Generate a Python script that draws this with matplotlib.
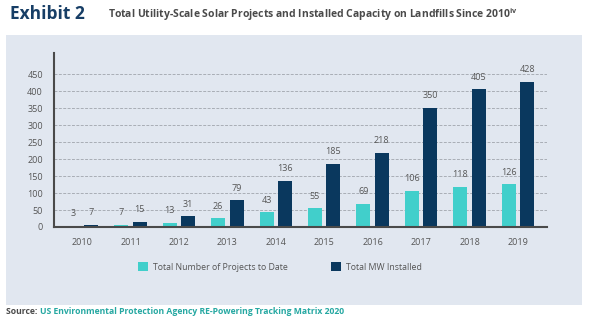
import matplotlib
matplotlib.use("Agg")
import matplotlib.pyplot as plt
from matplotlib.patches import Rectangle, Patch
import numpy as np

years = ["2010", "2011", "2012", "2013", "2014", "2015", "2016", "2017", "2018", "2019"]
projects = [3, 7, 13, 26, 43, 55, 69, 106, 118, 126]
mw_installed = [7, 15, 31, 79, 136, 185, 218, 350, 405, 428]
yticks = [0, 50, 100, 150, 200, 250, 300, 350, 400, 450]

TEAL = "#41CFCB"
NAVY = "#0A385E"
PANEL = "#E1E7F0"
GRAY = "#555555"

plt.rcParams["font.family"] = ["Open Sans", "DejaVu Sans"]

fig = plt.figure(figsize=(6.0, 3.24), dpi=100)
fig.patch.set_facecolor("white")

# panel background
fig.patches.append(Rectangle((6 / 600, 1 - 305 / 324), (582 - 6) / 600, (305 - 35) / 324,
                             transform=fig.transFigure, facecolor=PANEL, edgecolor="none", zorder=-5))

ax = fig.add_axes([54 / 600, 1 - 227 / 324, (547 - 54) / 600, (227 - 53) / 324])
ax.set_facecolor("none")
ax.set_zorder(2)

x = np.arange(len(years))
w = 0.29
off = 0.19
b1 = ax.bar(x - off, projects, width=w, color=TEAL, zorder=3, label="Total Number of Projects to Date")
b2 = ax.bar(x + off, mw_installed, width=w, color=NAVY, zorder=3, label="Total MW Installed")

for bars, vals in ((b1, projects), (b2, mw_installed)):
    for r, v in zip(bars, vals):
        ax.annotate(str(v), (r.get_x() + r.get_width() / 2, r.get_height()),
                    xytext=(0, 5.5), textcoords="offset points", ha="center", va="bottom",
                    fontsize=6.5, color=GRAY)

ax.set_xlim(-0.58, 9.6)
ax.set_ylim(0, 512)
ax.set_yticks(yticks)
ax.set_yticklabels([str(t) for t in yticks])
ax.set_xticks(x)
ax.set_xticklabels(years)
ax.tick_params(axis="both", length=0, labelsize=6.5, colors=GRAY)
ax.tick_params(axis="y", pad=8)
ax.tick_params(axis="x", pad=8)
for t in yticks[1:]:
    ax.axhline(t, color="#A9AEB6", lw=0.7, ls=(0, (3, 1.5)), zorder=1)
for s in ("top", "right"):
    ax.spines[s].set_visible(False)
for s in ("left", "bottom"):
    ax.spines[s].set_color("#4A4A4A")
    ax.spines[s].set_linewidth(1.5)
    ax.spines[s].set_zorder(4)

handles = [Patch(facecolor=TEAL, edgecolor="none", label="Total Number of Projects to Date"),
           Patch(facecolor=NAVY, edgecolor="none", label="Total MW Installed")]
leg = fig.legend(handles=handles, loc="center", bbox_to_anchor=(280 / 600, 1 - 267 / 324), ncol=2,
                 frameon=False, fontsize=6.3, handlelength=1.1, handleheight=1.1,
                 columnspacing=5.0, handletextpad=0.6)
for t in leg.get_texts():
    t.set_color(GRAY)

fig.text(10 / 600, 1 - 14 / 324, "Exhibit 2", fontsize=12.5, fontweight="bold", color="#173E66",
         va="center", ha="left")
fig.text(108 / 600, 1 - 15 / 324,
         "Total Utility-Scale Solar Projects and Installed Capacity on Landfills Since 2010$^{\\mathregular{iv}}$",
         fontsize=7.5, fontweight="bold", color="#4A4A4A", va="center", ha="left")

t1 = fig.text(6 / 600, 1 - 312 / 324, "Source: ", fontsize=6.2, fontweight="bold", color="#4A4A4A",
              va="center", ha="left")
fig.canvas.draw()
bb = t1.get_window_extent()
fig.text(bb.x1 / fig.bbox.width, 1 - 312 / 324, "US Environmental Protection Agency RE-Powering Tracking Matrix 2020",
         fontsize=6.2, fontweight="bold", color="#26A8A2", va="center", ha="left")

fig.savefig("out.png", dpi=100, facecolor="white")
